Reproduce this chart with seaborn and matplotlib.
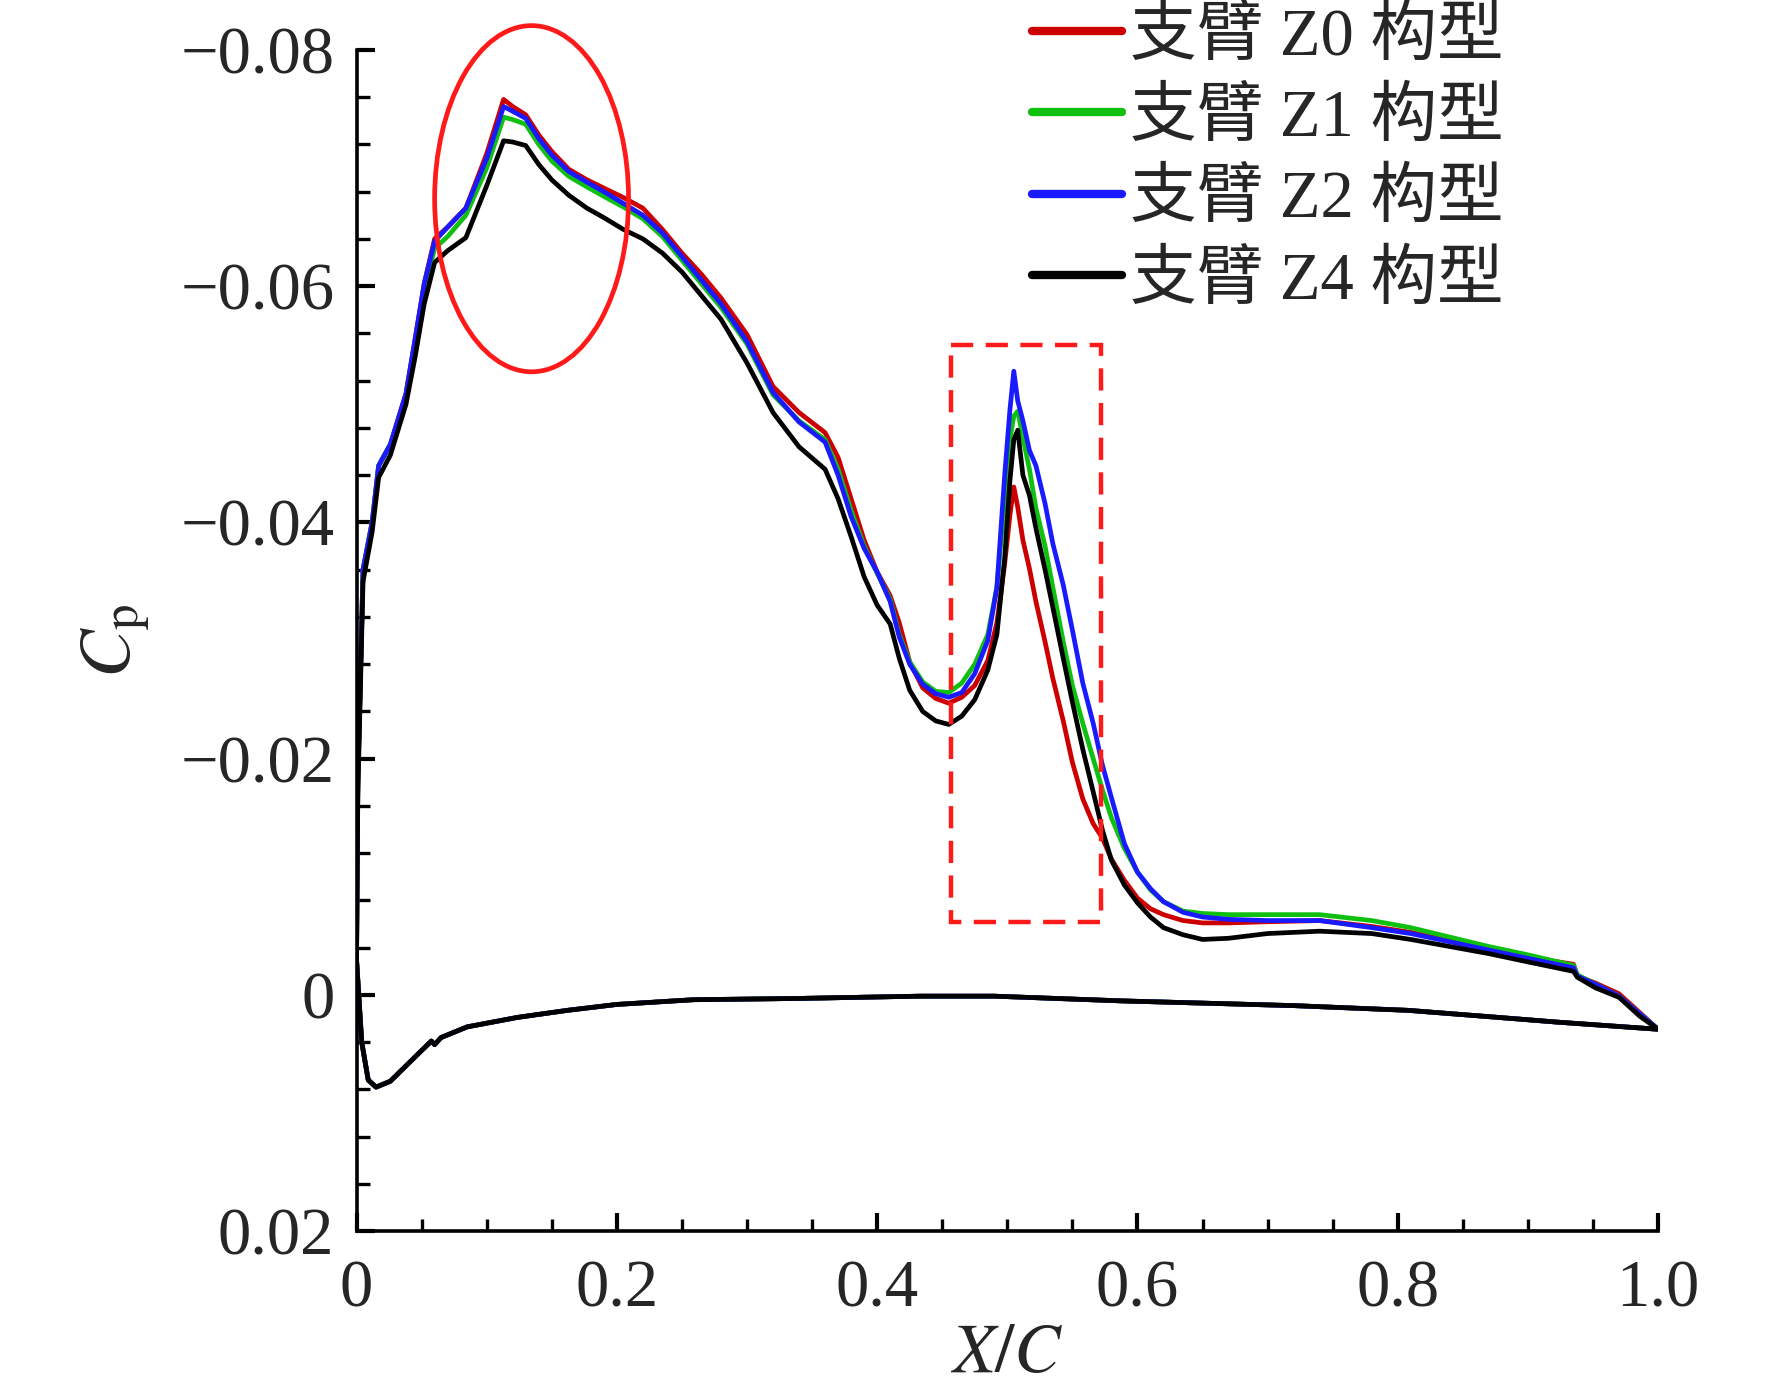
import numpy as np
import pandas as pd
import matplotlib
matplotlib.use("Agg")
import matplotlib.pyplot as plt
import seaborn as sns
from matplotlib.patches import Ellipse, Rectangle
from matplotlib.ticker import FixedLocator, MultipleLocator, FuncFormatter

# ---------------- data ----------------
labels = ["支臂 Z0 构型", "支臂 Z1 构型", "支臂 Z2 构型", "支臂 Z4 构型"]
colors = ["#cc0000", "#10c010", "#1a1aff", "#000000"]

x_upper = [0, 0.001, 0.005, 0.012, 0.017, 0.026, 0.038, 0.045, 0.052, 0.06, 0.07, 0.084,
           0.10, 0.113, 0.12, 0.13, 0.14, 0.15, 0.163, 0.177, 0.19, 0.205, 0.22, 0.235,
           0.25, 0.265, 0.28, 0.30, 0.32, 0.34, 0.36, 0.37, 0.38, 0.39, 0.40, 0.41,
           0.417, 0.425, 0.435, 0.445, 0.455, 0.465, 0.475, 0.485, 0.492, 0.498, 0.502,
           0.505, 0.508, 0.512, 0.517, 0.522, 0.529, 0.535, 0.543, 0.55, 0.558, 0.566,
           0.573, 0.58, 0.59, 0.60, 0.61, 0.62, 0.635, 0.65, 0.67, 0.70, 0.74, 0.78,
           0.81, 0.84, 0.87, 0.90, 0.935, 0.938, 0.952, 0.97, 0.986, 1.0]

cp_z0 = [-0.003, -0.018, -0.036, -0.040, -0.0448, -0.0466, -0.0509, -0.0555, -0.0602, -0.0640, -0.0650, -0.0666,
         -0.0712, -0.0758, -0.0752, -0.0745, -0.0728, -0.0714, -0.0699, -0.0690, -0.0683, -0.0675, -0.0666, -0.0648,
         -0.0628, -0.0610, -0.0590, -0.0559, -0.0515, -0.0493, -0.0476, -0.0455, -0.0420, -0.0385, -0.0358, -0.0338,
         -0.0315, -0.0282, -0.0260, -0.0251, -0.0247, -0.0252, -0.0262, -0.0283, -0.0315, -0.0365, -0.0406,
         -0.0430, -0.0413, -0.0385, -0.0361, -0.0333, -0.0299, -0.0268, -0.0232, -0.0197, -0.0166, -0.0145,
         -0.0133, -0.0115, -0.0097, -0.0082, -0.0073, -0.0068, -0.0063, -0.0061, -0.0061, -0.0062, -0.0063, -0.0058,
         -0.0053, -0.0046, -0.0039, -0.0032, -0.0026, -0.0016, -0.0010, -0.0001, 0.0015, 0.0029]

cp_z1 = [-0.003, -0.018, -0.036, -0.040, -0.0448, -0.0466, -0.0507, -0.0550, -0.0596, -0.0632, -0.0642, -0.0660,
         -0.0700, -0.0743, -0.0741, -0.0737, -0.0720, -0.0706, -0.0693, -0.0684, -0.0676, -0.0667, -0.0657, -0.0642,
         -0.0622, -0.0602, -0.0582, -0.0551, -0.0508, -0.0486, -0.0470, -0.0445, -0.0410, -0.0380, -0.0357, -0.0335,
         -0.0305, -0.0282, -0.0265, -0.0257, -0.0256, -0.0264, -0.0280, -0.0305, -0.0345, -0.0420, -0.0470,
         -0.0490, -0.0494, -0.0472, -0.0445, -0.0412, -0.0380, -0.0345, -0.0299, -0.0262, -0.0230, -0.0200,
         -0.0174, -0.0150, -0.0124, -0.0104, -0.0089, -0.0079, -0.0071, -0.0069, -0.0068, -0.0068, -0.0068, -0.0063,
         -0.0057, -0.0049, -0.0041, -0.0034, -0.0025, -0.0017, -0.0009, 0.0001, 0.0016, 0.0029]

cp_z2 = [-0.003, -0.018, -0.036, -0.040, -0.0448, -0.0466, -0.0509, -0.0555, -0.0602, -0.0638, -0.0650, -0.0666,
         -0.0708, -0.0752, -0.0748, -0.0742, -0.0725, -0.0711, -0.0697, -0.0688, -0.0680, -0.0670, -0.0660, -0.0645,
         -0.0625, -0.0605, -0.0585, -0.0553, -0.0510, -0.0485, -0.0468, -0.0440, -0.0405, -0.0378, -0.0358, -0.0333,
         -0.0303, -0.0280, -0.0263, -0.0255, -0.0252, -0.0256, -0.0272, -0.0300, -0.0345, -0.0440, -0.0495,
         -0.0528, -0.0503, -0.0486, -0.0461, -0.0448, -0.0416, -0.0382, -0.0347, -0.0309, -0.0264, -0.0230,
         -0.0195, -0.0167, -0.0128, -0.0104, -0.0090, -0.0079, -0.0070, -0.0066, -0.0064, -0.0063, -0.0063, -0.0057,
         -0.0052, -0.0045, -0.0038, -0.0031, -0.0023, -0.0016, -0.0009, 0.0001, 0.0016, 0.0029]

cp_z4 = [-0.003, -0.017, -0.035, -0.0392, -0.0438, -0.0457, -0.0500, -0.0540, -0.0585, -0.0620, -0.0630, -0.0641,
         -0.0685, -0.0723, -0.0722, -0.0719, -0.0703, -0.0690, -0.0677, -0.0666, -0.0658, -0.0648, -0.0640, -0.0628,
         -0.0612, -0.0592, -0.0572, -0.0535, -0.0493, -0.0464, -0.0445, -0.0420, -0.0388, -0.0354, -0.0330, -0.0314,
         -0.0285, -0.0258, -0.0240, -0.0232, -0.0229, -0.0236, -0.0250, -0.0275, -0.0305, -0.0370, -0.0435,
         -0.0470, -0.0478, -0.0440, -0.0423, -0.0395, -0.0360, -0.0328, -0.0285, -0.0248, -0.0208, -0.0172,
         -0.0140, -0.0114, -0.0093, -0.0078, -0.0066, -0.0057, -0.0051, -0.0047, -0.0048, -0.0052, -0.0054, -0.0052,
         -0.0047, -0.0041, -0.0035, -0.0028, -0.0020, -0.0015, -0.0006, 0.0002, 0.0018, 0.0029]

x_lower = [0, 0.004, 0.009, 0.015, 0.026, 0.038, 0.05, 0.0575, 0.060, 0.065, 0.085, 0.1235,
           0.162, 0.20, 0.259, 0.336, 0.433, 0.49, 0.588, 0.72, 0.808, 0.866, 0.923, 1.0]
cp_lower = [-0.003, 0.004, 0.0072, 0.0078, 0.0073, 0.0060, 0.0047, 0.0039, 0.0042, 0.0036, 0.0027, 0.0019,
            0.0013, 0.0008, 0.0004, 0.0003, 0.0001, 0.0001, 0.0005, 0.0009, 0.0013, 0.0018, 0.0023, 0.0029]

upper_sets = [cp_z0, cp_z1, cp_z2, cp_z4]

x_ticks = [0, 0.2, 0.4, 0.6, 0.8, 1.0]
y_ticks = [-0.08, -0.06, -0.04, -0.02, 0, 0.02]

# ---------------- style ----------------
sns.set_style("ticks")
plt.rcParams["font.family"] = ["Liberation Serif", "Noto Sans CJK SC", "DejaVu Sans"]
plt.rcParams["mathtext.fontset"] = "stix"
plt.rcParams["axes.unicode_minus"] = True

fig = plt.figure(figsize=(17.72, 13.96), dpi=100)
ax = fig.add_axes([0.2012, 0.118, 0.7345, 0.8463])

for lab, col, cp_up in zip(labels, colors, upper_sets):
    xs = list(x_upper) + list(x_lower[::-1])
    ys = list(cp_up) + list(cp_lower[::-1])
    df = pd.DataFrame({"x": xs, "cp": ys})
    sns.lineplot(data=df, x="x", y="cp", sort=False, estimator=None, color=col,
                 lw=3.4, ax=ax, label=lab)

ax.set_xlim(0, 1.0)
ax.set_ylim(0.02, -0.08)

# annotations
ax.add_patch(Ellipse((0.1345, -0.0674), 0.149, 0.0293, fill=False, ec="#ff1a1a", lw=3.4,
                     zorder=5, clip_on=False))
ax.add_patch(Rectangle((0.4565, -0.0550), 0.1157, 0.0488, fill=False, ec="#ff1a1a", lw=3.2,
                       ls=(0, (5, 2.8)), zorder=5, clip_on=False))

# spines & ticks
sns.despine(ax=ax)
for s in ["left", "bottom"]:
    ax.spines[s].set_linewidth(2.6)
    ax.spines[s].set_color("black")

ax.xaxis.set_major_locator(FixedLocator(x_ticks))
ax.xaxis.set_minor_locator(MultipleLocator(0.05))
ax.yaxis.set_major_locator(FixedLocator(y_ticks))
ax.yaxis.set_minor_locator(MultipleLocator(0.004))

ax.xaxis.set_major_formatter(FuncFormatter(lambda v, p: "0" if abs(v) < 1e-9 else f"{v:.1f}"))
ax.yaxis.set_major_formatter(FuncFormatter(
    lambda v, p: "0" if abs(v) < 1e-9 else f"{v:.2f}".replace("-", "\u2212")))

ax.tick_params(which="major", direction="in", length=13, width=3, labelsize=48, pad=16, color="black")
ax.tick_params(which="minor", direction="in", length=9, width=2.4, color="black")
ax.tick_params(axis="x", which="major", pad=20)

ax.set_xlabel(r"$\mathit{X}/\mathit{C}$", fontsize=50)
ax.set_ylabel(r"$\mathit{C}_{\mathrm{p}}$", fontsize=52)
ax.xaxis.set_label_coords(0.5, -0.078)
ax.yaxis.set_label_coords(-0.157, 0.5)

leg = ax.legend(loc="upper left", bbox_to_anchor=(0.5825, 0.995), bbox_transform=fig.transFigure,
                frameon=False, fontsize=48, handlelength=1.35, handletextpad=0.12,
                labelspacing=0.3, borderaxespad=0, borderpad=0)
for line in leg.get_lines():
    line.set_linewidth(6)

fig.savefig("out.png", dpi=100)
